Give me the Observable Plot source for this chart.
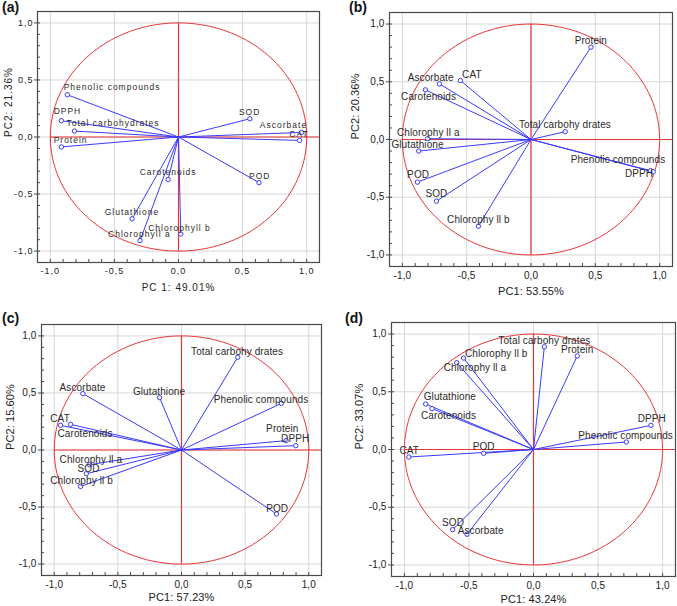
<!DOCTYPE html>
<html>
<head>
<meta charset="utf-8">
<script src="https://cdn.jsdelivr.net/npm/d3@7"></script>
<script src="https://cdn.jsdelivr.net/npm/@observablehq/plot@0.6"></script>
<style>
  html, body { margin: 0; padding: 0; background: #fff; }
  #wrap { position: relative; width: 677px; height: 606px; background: #fff; overflow: hidden;
          font-family: "Liberation Sans", Arial, sans-serif; }
  .panel { position: absolute; }
  .tag { position: absolute; font-weight: bold; font-size: 14px; line-height: 15px; color: #111; }
</style>
</head>
<body>
<div id="wrap"></div>
<script>
// ---------------- data ----------------
// (a)
const namesA = ["Phenolic compounds","DPPH","Total carbohydrates","Protein","SOD","Ascorbate","CAT","POD","Carotenoids","Glutathione","Chlorophyll a","Chlorophyll b"];
const pc1A = [-0.867,-0.914,-0.812,-0.914,0.557,0.960,0.945,0.628,-0.081,-0.362,-0.300,0.018];
const pc2A = [0.370,0.143,0.052,-0.087,0.160,0.040,-0.030,-0.400,-0.373,-0.717,-0.907,-0.851];
// (b)
const namesB = ["Protein","CAT","Ascorbate","Carotenoids","Total carbohy drates","Chlorophy ll a","Glutathione","Phenolic compounds","DPPH","POD","SOD","Chlorophy ll b"];
const pc1B = [0.466,-0.549,-0.712,-0.821,0.266,-0.803,-0.873,0.930,0.950,-0.883,-0.735,-0.409];
const pc2B = [0.800,0.511,0.482,0.430,0.068,0.007,-0.100,-0.270,-0.280,-0.369,-0.534,-0.751];
// (c)
const namesC = ["Total carbohy drates","Ascorbate","Glutathione","Phenolic compounds","CAT","Carotenoids","Protein","DPPH","Chlorophy ll a","SOD","Chlorophy ll b","POD"];
const pc1C = [0.442,-0.775,-0.172,0.785,-0.950,-0.872,0.822,0.898,-0.722,-0.748,-0.793,0.746];
const pc2C = [0.813,0.494,0.459,0.409,0.216,0.225,0.082,0.038,-0.129,-0.208,-0.319,-0.561];
// (d)
const namesD = ["Total carbohy drates","Protein","Chlorophy ll b","Chlorophy ll a","Glutathione","Carotenoids","DPPH","Phenolic compounds","CAT","POD","SOD","Ascorbate"];
const pc1D = [0.084,0.339,-0.541,-0.595,-0.835,-0.786,0.910,0.719,-0.966,-0.386,-0.626,-0.515];
const pc2D = [0.890,0.810,0.792,0.752,0.394,0.354,0.209,0.065,-0.065,-0.033,-0.694,-0.734];

const axisTicks = [-1, -0.5, 0, 0.5, 1];
const minorTicks = [-1, -0.9, -0.8, -0.7, -0.6, -0.5, -0.4, -0.3, -0.2, -0.1, 0, 0.1, 0.2, 0.3, 0.4, 0.5, 0.6, 0.7, 0.8, 0.9, 1];
const xTitles = ["PC 1: 49.01%", "PC1: 53.55%", "PC1: 57.23%", "PC1: 43.24%"];
const yTitles = ["PC2: 21.36%", "PC2: 20.36%", "PC2: 15.60%", "PC2: 33.07%"];
const tags = ["(a)", "(b)", "(c)", "(d)"];

// ---------------- layout (label offsets in px, panel geometry) ----------------
const layout = [
  { left: 0, top: 0, mL: 37, mR: 19, mT: 11, mB: 41, tagX: 2, tagY: 0,
    lab: 8.5, tick: 9, title: 10, spacing: "1px", tickPad: 1, xt: 28, yt: -29,
    dx: [-3.7,-7.7,-8,-7.7,-11,-41.7,-10.3,-10,-28.4,-27.4,-32,-32.6],
    dy: [-8,-9.7,-8.3,-6.3,-6,-7,-6,-6.7,-7,-7,-6.4,-6] },
  { left: 339, top: 0, mL: 50, mR: 5, mT: 12, mB: 37, tagX: 349, tagY: 0,
    lab: 10, tick: 10, title: 11, spacing: "0.1px", tickPad: 2, xt: 28, yt: -34,
    dx: [-16.3,1.7,-31.7,-24.3,-46.3,-30.7,-27.3,-80,-28.3,-10.3,-11,-31.3],
    dy: [-6.7,-6,-6,6.7,-7,-6,-6.7,-11.3,2,-7,-7,-6.3] },
  { left: 0, top: 303, mL: 41, mR: 17, mT: 21, mB: 31, tagX: 2, tagY: 311,
    lab: 10, tick: 10, title: 11, spacing: "0.1px", tickPad: 2, xt: 25, yt: -31,
    dx: [-46.7,-23.3,-26.7,-67.7,-10.3,-13,-20,-14.7,-30,-8.7,-30.3,-10.3],
    dy: [-5.7,-5.7,-6,-4,-6.3,9.7,-11.7,-6.7,-5,-5.3,-5.7,-5] },
  { left: 339, top: 303, mL: 52, mR: 2, mT: 19, mB: 30, tagX: 345, tagY: 311,
    lab: 10, tick: 10, title: 11, spacing: "0.1px", tickPad: 2, xt: 26, yt: -32,
    dx: [-46,-16.3,1.3,-13,-2,-11,-13.3,-48,-9.3,-11,-10.7,-9.3],
    dy: [-6,-6,-4,4.7,-7.7,6.7,-6.3,-6.3,-6.3,-7,-6.7,-3.3] }
];

const RED = "#ea3438";
const BLUE = "#3a3aff";
const fmt = d => d.toFixed(1).replace(".", ",");
const unitCircle = d3.range(0, 361, 2).map(a => ({ cx: Math.cos(a * Math.PI / 180), cy: Math.sin(a * Math.PI / 180) }));

function makePanel(i, names, pc1, pc2) {
  const L = layout[i];
  const rows = names.map((n, j) => ({ name: n, x: pc1[j], y: pc2[j], dx: L.dx[j], dy: L.dy[j] }));
  const labelMarks = rows.map(r => Plot.text([r], {
    x: "x", y: "y", text: "name", textAnchor: "start", dx: r.dx, dy: r.dy,
    fill: "#2a2a2a", fontSize: L.lab
  }));
  return Plot.plot({
    width: 338, height: 303,
    marginLeft: L.mL, marginRight: L.mR, marginTop: L.mT, marginBottom: L.mB,
    x: { domain: [-1.1, 1.1] },
    y: { domain: [-1.1, 1.1] },
    style: { fontFamily: "'Liberation Sans', Arial, sans-serif", background: "transparent", letterSpacing: L.spacing, overflow: "visible" },
    marks: [
      Plot.gridX(axisTicks, { stroke: "#d6d6d6", strokeOpacity: 1 }),
      Plot.gridY(axisTicks, { stroke: "#d6d6d6", strokeOpacity: 1 }),
      Plot.line(unitCircle, { x: "cx", y: "cy", stroke: RED, strokeWidth: 1, curve: "linear" }),
      Plot.ruleX([0], { y1: -1, y2: 1, stroke: RED, strokeWidth: 1.2 }),
      Plot.ruleY([0], { x1: -1, x2: 1.1, stroke: RED, strokeWidth: 1.2 }),
      Plot.link(rows, { x1: 0, y1: 0, x2: "x", y2: "y", stroke: BLUE, strokeWidth: 1 }),
      Plot.dot(rows, { x: "x", y: "y", r: 2.2, stroke: BLUE, fill: "white", strokeWidth: 1 }),
      ...labelMarks,
      Plot.frame({ stroke: "#4a4a4a", strokeWidth: 1.2 }),
      Plot.axisX(minorTicks, { tickSize: -3, tickFormat: () => "", stroke: "#4a4a4a", label: null }),
      Plot.axisY(minorTicks, { tickSize: -3, tickFormat: () => "", stroke: "#4a4a4a", label: null }),
      Plot.axisX(axisTicks, { tickSize: 0, tickPadding: 5, tickFormat: fmt, fontSize: L.tick, fill: "#222", label: null }),
      Plot.axisY(axisTicks, { tickSize: 3, tickPadding: L.tickPad, tickFormat: fmt, fontSize: L.tick, fill: "#222", stroke: "#4a4a4a", label: null }),
      Plot.text([xTitles[i]], { frameAnchor: "bottom", dy: L.xt, text: d => d, fontSize: L.title, fill: "#222" }),
      Plot.text([yTitles[i]], { frameAnchor: "left", dx: L.yt, rotate: -90, text: d => d, fontSize: L.title, fill: "#222" })
    ]
  });
}

const wrap = document.getElementById("wrap");
const sets = [[namesA, pc1A, pc2A], [namesB, pc1B, pc2B], [namesC, pc1C, pc2C], [namesD, pc1D, pc2D]];
sets.forEach((s, i) => {
  const L = layout[i];
  const div = document.createElement("div");
  div.className = "panel";
  div.style.left = L.left + "px";
  div.style.top = L.top + "px";
  div.appendChild(makePanel(i, s[0], s[1], s[2]));
  wrap.appendChild(div);
  const tag = document.createElement("div");
  tag.className = "tag";
  tag.style.left = L.tagX + "px";
  tag.style.top = L.tagY + "px";
  tag.textContent = tags[i];
  wrap.appendChild(tag);
});
</script>
</body>
</html>
